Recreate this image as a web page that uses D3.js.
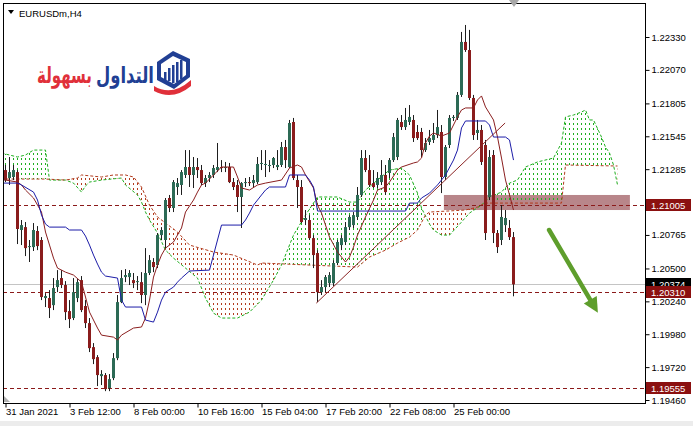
<!DOCTYPE html>
<html><head><meta charset="utf-8">
<script src="https://cdn.jsdelivr.net/npm/d3@7"></script>
<style>body{margin:0;background:#fff;} svg{display:block;}</style>
</head><body><svg id="c" width="693" height="426"></svg>
<script>
// ---------------- DATA ----------------
const symbol = "EURUSDm,H4";
const openP = [
1.21278,1.21215,1.21223,1.21262,1.20804,1.20827,1.20669,1.20669,1.20796,1.20725,
1.20266,1.20266,1.20210,1.20353,1.20424,1.20369,1.20163,1.20108,1.20266,1.20408,
1.20203,1.20068,1.19878,1.19799,1.19649,1.19657,1.19554,1.19633,1.19791,1.20234,
1.20432,1.20432,1.20408,1.20392,1.20392,1.20290,1.20464,1.20551,1.20527,1.20764,
1.20725,1.21057,1.20978,1.21144,1.21160,1.21239,1.21302,1.21239,1.21302,1.21278,
1.21175,1.21215,1.21239,1.21278,1.21302,1.21294,1.21302,1.21183,1.21160,1.21065,
1.21175,1.21183,1.21175,1.21183,1.21326,1.21318,1.21310,1.21318,1.21302,1.21318,
1.21460,1.21302,1.21658,1.21199,1.21144,1.20883,1.20883,1.20740,1.20622,1.20313,
1.20353,1.20384,1.20384,1.20543,1.20685,1.20709,1.20827,1.20843,1.20907,1.21081,
1.21373,1.21278,1.21175,1.21160,1.21183,1.21239,1.21255,1.21357,1.21381,1.21658,
1.21618,1.21658,1.21674,1.21579,1.21579,1.21436,1.21500,1.21516,1.21555,1.21579,
1.21223,1.21476,1.21690,1.21690,1.21872,1.22291,1.22227,1.21848,1.21571,1.21595,
1.21476,1.21065,1.21397,1.20780,1.20725,1.20843,1.20820,1.20748];
const highP = [
1.21318,1.21381,1.21318,1.21278,1.20883,1.20867,1.20725,1.20859,1.20835,1.20748,
1.20305,1.20329,1.20424,1.20487,1.20487,1.20400,1.20250,1.20424,1.20416,1.20440,
1.20250,1.20108,1.19910,1.19815,1.19696,1.19673,1.19665,1.19831,1.20290,1.20487,
1.20495,1.20487,1.20464,1.20440,1.20471,1.20661,1.20606,1.20582,1.20780,1.20827,
1.21057,1.21081,1.21199,1.21215,1.21278,1.21436,1.21436,1.21381,1.21373,1.21318,
1.21239,1.21262,1.21318,1.21492,1.21357,1.21342,1.21334,1.21215,1.21199,1.21183,
1.21215,1.21223,1.21239,1.21381,1.21436,1.21436,1.21357,1.21381,1.21436,1.21500,
1.21516,1.21674,1.21690,1.21239,1.21199,1.20962,1.20922,1.20764,1.20645,1.20408,
1.20448,1.20471,1.20566,1.20725,1.20764,1.20867,1.20922,1.20946,1.21144,1.21436,
1.21436,1.21397,1.21278,1.21262,1.21357,1.21318,1.21373,1.21571,1.21690,1.21713,
1.21769,1.21792,1.21713,1.21634,1.21611,1.21531,1.21595,1.21650,1.21753,1.21634,
1.21476,1.21713,1.21713,1.21895,1.22370,1.22425,1.22386,1.21872,1.21674,1.21634,
1.21516,1.21436,1.21436,1.20804,1.21001,1.20962,1.20883,1.20788];
const lowP = [
1.21183,1.21160,1.21199,1.20693,1.20685,1.20598,1.20551,1.20638,1.20645,1.20250,
1.20195,1.20108,1.20171,1.20313,1.20345,1.20092,1.20029,1.20092,1.20234,1.20155,
1.20029,1.19839,1.19744,1.19570,1.19578,1.19530,1.19530,1.19617,1.19775,1.20226,
1.20392,1.20369,1.20345,1.20329,1.20226,1.20210,1.20448,1.20471,1.20503,1.20725,
1.20661,1.20946,1.20946,1.21081,1.21081,1.21215,1.21144,1.21136,1.21215,1.21160,
1.21144,1.21183,1.21215,1.21262,1.21262,1.21262,1.21175,1.21120,1.20946,1.20820,
1.21144,1.21152,1.21144,1.21168,1.21278,1.21223,1.21262,1.21294,1.21278,1.21302,
1.21294,1.21294,1.21199,1.20978,1.20859,1.20843,1.20725,1.20503,1.20234,1.20290,
1.20313,1.20353,1.20361,1.20527,1.20645,1.20685,1.20804,1.20820,1.20883,1.21065,
1.21262,1.21144,1.21136,1.21136,1.21160,1.21081,1.21215,1.21342,1.21357,1.21595,
1.21595,1.21634,1.21500,1.21516,1.21381,1.21421,1.21476,1.21492,1.21531,1.21096,
1.21199,1.21452,1.21666,1.21674,1.21856,1.22212,1.21832,1.21516,1.21516,1.21318,
1.20725,1.21041,1.20701,1.20622,1.20685,1.20788,1.20725,1.20280];
const closeP = [
1.21199,1.21262,1.21278,1.20812,1.20843,1.20661,1.20677,1.20804,1.20677,1.20274,
1.20282,1.20187,1.20345,1.20408,1.20369,1.20155,1.20100,1.20313,1.20392,1.20171,
1.20068,1.19870,1.19783,1.19657,1.19665,1.19546,1.19625,1.19791,1.20234,1.20424,
1.20448,1.20464,1.20384,1.20400,1.20290,1.20464,1.20566,1.20511,1.20764,1.20804,
1.21041,1.20978,1.21183,1.21175,1.21262,1.21302,1.21239,1.21302,1.21278,1.21175,
1.21215,1.21239,1.21294,1.21302,1.21294,1.21302,1.21183,1.21144,1.21065,1.21175,
1.21183,1.21175,1.21199,1.21326,1.21334,1.21326,1.21318,1.21373,1.21318,1.21460,
1.21357,1.21650,1.21215,1.21144,1.20867,1.20899,1.20740,1.20606,1.20313,1.20353,
1.20432,1.20448,1.20543,1.20709,1.20740,1.20827,1.20907,1.20922,1.21081,1.21373,
1.21278,1.21160,1.21144,1.21215,1.21239,1.21104,1.21357,1.21539,1.21674,1.21618,
1.21674,1.21698,1.21531,1.21531,1.21436,1.21492,1.21531,1.21555,1.21618,1.21223,
1.21460,1.21690,1.21698,1.21872,1.22291,1.22227,1.21848,1.21555,1.21595,1.21342,
1.20780,1.21381,1.20780,1.20669,1.20907,1.20899,1.20748,1.20374];

// Ichimoku lines: [bar index, price]
const tenkan = [[-1,1.21199],[0,1.21199],[3,1.21183],[4,1.21160],[5,1.21120],[7,1.21057],[9,1.20946],[10,1.20788],[11,1.20685],[12,1.20582],
[13,1.20503],[15,1.20471],[17,1.20448],[19,1.20392],[20,1.20274],[21,1.20155],[23,1.20029],[24,1.19973],[27,1.19957],[28,1.19934],
[29,1.19973],[32,1.20029],[34,1.20037],[35,1.20108],[36,1.20250],[37,1.20432],[38,1.20527],[39,1.20606],[40,1.20661],[42,1.20709],
[44,1.20820],[45,1.20946],[47,1.21041],[48,1.21104],[49,1.21160],[50,1.21175],[52,1.21239],[54,1.21302],[57,1.21302],[58,1.21223],
[59,1.21136],[61,1.21120],[63,1.21160],[65,1.21175],[69,1.21199],[71,1.21294],[73,1.21318],[74,1.21302],[75,1.21239],[77,1.21136],
[78,1.21001],[79,1.20938],[81,1.20748],[83,1.20630],[85,1.20551],[86,1.20590],[87,1.20669],[88,1.20764],[90,1.20907],[92,1.21041],
[93,1.21120],[95,1.21144],[96,1.21183],[98,1.21278],[99,1.21302],[102,1.21334],[103,1.21342],[104,1.21373],[105,1.21492],[106,1.21547],
[107,1.21571],[109,1.21547],[111,1.21571],[113,1.21698],[114,1.21753],[115,1.21769],[117,1.21769],[118,1.21832],[119,1.21864],[120,1.21777],
[122,1.21674],[123,1.21539],[124,1.21373],[125,1.21199],[126,1.21081],[127,1.20962]];
const kijun = [[-1,1.21175],[3,1.21175],[4,1.21160],[7,1.21104],[8,1.21041],[9,1.20922],[10,1.20851],[11,1.20827],[15,1.20827],[16,1.20804],
[19,1.20804],[20,1.20756],[21,1.20685],[22,1.20606],[23,1.20535],[24,1.20471],[25,1.20440],[28,1.20424],[29,1.20250],[30,1.20195],
[34,1.20195],[35,1.20092],[37,1.20076],[38,1.20155],[39,1.20250],[40,1.20313],[42,1.20353],[43,1.20392],[44,1.20424],[46,1.20480],
[51,1.20487],[52,1.20606],[53,1.20725],[54,1.20843],[59,1.20843],[60,1.20883],[61,1.20938],[62,1.21001],[63,1.21041],[64,1.21081],
[65,1.21120],[66,1.21144],[70,1.21144],[71,1.21239],[75,1.21239],[76,1.21199],[77,1.21144],[78,1.20954],[100,1.20954],[101,1.21017],
[103,1.21017],[104,1.21057],[106,1.21096],[108,1.21160],[110,1.21239],[112,1.21357],[113,1.21436],[114,1.21611],[115,1.21666],[120,1.21666],
[121,1.21634],[122,1.21539],[125,1.21539],[126,1.21516],[127,1.21357]];
const spanA = [[-1,1.21413],[1,1.21397],[3,1.21381],[5,1.21397],[7,1.21436],[10,1.21436],[11,1.21199],[15,1.21199],[17,1.21175],[19,1.21104],
[20,1.21152],[21,1.21183],[24,1.21199],[29,1.21215],[30,1.21160],[33,1.21081],[34,1.21025],[35,1.20946],[36,1.20883],[38,1.20780],
[40,1.20645],[42,1.20582],[45,1.20503],[48,1.20424],[50,1.20266],[52,1.20147],[54,1.20108],[58,1.20108],[61,1.20155],[64,1.20250],
[67,1.20408],[69,1.20527],[72,1.20764],[75,1.20922],[78,1.21065],[83,1.21065],[86,1.21025],[88,1.21025],[90,1.21120],[93,1.21199],
[96,1.21278],[99,1.21294],[101,1.21239],[103,1.21096],[104,1.20978],[106,1.20851],[107,1.20804],[109,1.20764],[111,1.20764],[114,1.20867],
[116,1.20938],[119,1.21001],[121,1.21065],[124,1.21104],[126,1.21175],[128,1.21199],[130,1.21302],[133,1.21342],[137,1.21373],[139,1.21492],
[140,1.21698],[142,1.21713],[144,1.21737],[145,1.21753],[146,1.21674],[147,1.21674],[149,1.21539],[150,1.21460],[151,1.21413],[152,1.21318],
[153,1.21160]];
const spanB = [[-1,1.21207],[10,1.21207],[15,1.21199],[18,1.21215],[19,1.21239],[24,1.21223],[27,1.21239],[30,1.21239],[32,1.21223],[34,1.21144],
[36,1.21001],[38,1.20907],[43,1.20788],[46,1.20685],[52,1.20630],[57,1.20606],[63,1.20527],[64,1.20543],[88,1.20511],[91,1.20590],
[95,1.20645],[98,1.20701],[101,1.20748],[103,1.20804],[105,1.20922],[106,1.20946],[115,1.20962],[118,1.20986],[120,1.21017],[139,1.21017],
[140,1.21318],[153,1.21310]];

const levels = [1.21005, 1.20310, 1.19555];
const bidPrice = 1.20374;
const yTicks = [1.22330,1.22070,1.21805,1.21545,1.21285,1.20765,1.20500,1.20240,1.19980,1.19720,1.19460];
const xTickIdx = [0,16,32,48,64,80,96,112];
const xTickLabels = ["31 Jan 2021","3 Feb 12:00","8 Feb 00:00","10 Feb 16:00","15 Feb 04:00","17 Feb 20:00","22 Feb 08:00","25 Feb 00:00"];
const trendLine = [[77.7,1.20226],[124.9,1.21650]];
const zone = {from:109.6, to:156.1, top:1.21081, bottom:1.20962};
const arrowFrom = [135.9, 1.20804];
const arrowTo = [148.1, 1.20150];
const logoBlue = "التداول";
const logoRed = "بسهولة";

// ---------------- DRAW ----------------
const svg = d3.select('#c');
const P = {l:3, t:3, r:645, b:403};
const x = d3.scaleLinear().domain([0,153]).range([5.5,617.5]);
const y = d3.scaleLinear().domain([1.19460,1.22330]).range([400,37]);
const FONT = '"Liberation Sans", Arial, sans-serif';
const GREEN = '#1fae1f', BROWN = '#b23c1e';

svg.append('rect').attr('width',693).attr('height',426).attr('fill','#ffffff');
svg.append('rect').attr('x',0).attr('y',421).attr('width',693).attr('height',5).attr('fill','#ececec');

const defs = svg.append('defs');
defs.append('clipPath').attr('id','plotClip').append('rect')
  .attr('x',P.l+1).attr('y',P.t+1).attr('width',P.r-P.l-1).attr('height',P.b-P.t-1);
const above = d3.area().x(d=>x(d[0])).y0(-20).y1(d=>y(d[1]));
const below = d3.area().x(d=>x(d[0])).y0(600).y1(d=>y(d[1]));
defs.append('clipPath').attr('id','abB').append('path').attr('d',above(spanB));
defs.append('clipPath').attr('id','abA').append('path').attr('d',above(spanA));
defs.append('clipPath').attr('id','blA').append('path').attr('d',below(spanA));
defs.append('clipPath').attr('id','blB').append('path').attr('d',below(spanB));

const g = svg.append('g').attr('clip-path','url(#plotClip)');

// zone rectangle (background object)
g.append('rect')
  .attr('x',x(zone.from)).attr('y',y(zone.top))
  .attr('width',x(zone.to)-x(zone.from)).attr('height',y(zone.bottom)-y(zone.top))
  .attr('fill','#b8868a');

// cloud hatch: one dotted vertical stroke per bar, clipped between the spans
const barsAll = d3.range(-1, 154);
function hatchLines(parent, color){
  parent.selectAll('line').data(barsAll).enter().append('line')
    .attr('x1',i=>x(i)).attr('x2',i=>x(i)).attr('y1',P.t).attr('y2',P.b)
    .attr('stroke',color).attr('stroke-width',1).attr('stroke-dasharray','2,3');
}
hatchLines(g.append('g').attr('clip-path','url(#abB)').append('g').attr('clip-path','url(#blA)'), GREEN);
hatchLines(g.append('g').attr('clip-path','url(#abA)').append('g').attr('clip-path','url(#blB)'), BROWN);
const line = d3.line().x(d=>x(d[0])).y(d=>y(d[1]));
g.append('path').attr('d',line(spanA)).attr('fill','none').attr('stroke',GREEN).attr('stroke-width',1).attr('stroke-dasharray','3,2');
g.append('path').attr('d',line(spanB)).attr('fill','none').attr('stroke',BROWN).attr('stroke-width',1).attr('stroke-dasharray','3,2');

// bid line
g.append('line').attr('x1',P.l).attr('x2',P.r).attr('y1',Math.round(y(bidPrice))+0.5).attr('y2',Math.round(y(bidPrice))+0.5)
  .attr('stroke','#c4c4c4').attr('stroke-width',1);
// level lines
g.selectAll('line.lvl').data(levels).enter().append('line').attr('class','lvl')
  .attr('x1',P.l).attr('x2',P.r)
  .attr('y1',d=>Math.round(y(d))+0.5).attr('y2',d=>Math.round(y(d))+0.5)
  .attr('stroke','#8b1a1a').attr('stroke-width',1).attr('stroke-dasharray','4,3');

// candles
const idx = d3.range(openP.length);
const cg = g.append('g');
cg.selectAll('line.wick').data(idx).enter().append('line').attr('class','wick')
  .attr('x1',i=>x(i)).attr('x2',i=>x(i))
  .attr('y1',i=>y(highP[i])).attr('y2',i=>y(lowP[i]))
  .attr('stroke','#1e1e1e').attr('stroke-width',1);
cg.selectAll('rect.body').data(idx).enter().append('rect').attr('class','body')
  .attr('x',i=>x(i)-1.5).attr('width',3)
  .attr('y',i=>y(Math.max(openP[i],closeP[i])))
  .attr('height',i=>Math.max(1, Math.abs(y(openP[i])-y(closeP[i]))))
  .attr('fill',i=>closeP[i]>=openP[i] ? '#2c6a55' : '#8a1c1c');

// tenkan / kijun
g.append('path').attr('d',line(tenkan)).attr('fill','none').attr('stroke','#8b1f1f').attr('stroke-width',1);
g.append('path').attr('d',line(kijun)).attr('fill','none').attr('stroke','#1c1ca8').attr('stroke-width',1);

// trend line
g.append('path').attr('d',line(trendLine)).attr('fill','none').attr('stroke','#8b2525').attr('stroke-width',1);

// arrow
{
  const x1=x(arrowFrom[0]), y1=y(arrowFrom[1]), x2=x(arrowTo[0]), y2=y(arrowTo[1]);
  const ang=Math.atan2(y2-y1,x2-x1), L=15, Wd=7.5;
  const bx=x2-L*Math.cos(ang), by=y2-L*Math.sin(ang);
  g.append('line').attr('x1',x1).attr('y1',y1).attr('x2',bx).attr('y2',by)
    .attr('stroke','#5e9e2c').attr('stroke-width',4.5).attr('stroke-linecap','round');
  g.append('polygon').attr('points',[
    [x2,y2],[bx+Wd*Math.sin(ang),by-Wd*Math.cos(ang)],[bx-Wd*Math.sin(ang),by+Wd*Math.cos(ang)]
  ].map(p=>p.join(',')).join(' ')).attr('fill','#5e9e2c');
}

// frame
svg.append('rect').attr('x',P.l+0.5).attr('y',P.t+0.5).attr('width',P.r-P.l).attr('height',P.b-P.t)
  .attr('fill','none').attr('stroke','#000').attr('stroke-width',1);

// title
svg.append('polygon').attr('points','8,10 14,10 11,14').attr('fill','#000');
svg.append('text').attr('x',19).attr('y',17).attr('font-family',FONT).attr('font-size',9.5).attr('fill','#000').text(symbol);

// shift markers
svg.append('polygon').attr('points','509,0 519,0 514,7').attr('fill','#a8a8a8');
svg.append('polygon').attr('points','4,396 4,402 10,402').attr('fill','#b0b0b0');

// right axis
const ya = svg.append('g').attr('transform',`translate(${P.r+0.5},0)`)
  .call(d3.axisRight(y).tickValues(yTicks).tickFormat(d3.format('.5f')).tickSize(4).tickPadding(2));
ya.select('.domain').remove();
ya.selectAll('text').attr('font-family',FONT).attr('font-size',9.5).attr('fill','#000');
ya.selectAll('line').attr('stroke','#000');

// price markers
const marks = [{v:bidPrice,c:'#000000'}].concat(levels.map(v=>({v:v,c:'#8b1010'})));
const mg = svg.selectAll('g.mk').data(marks).enter().append('g').attr('class','mk');
mg.append('rect').attr('x',P.r+1).attr('y',d=>Math.round(y(d.v))-6).attr('width',45).attr('height',12).attr('fill',d=>d.c);
mg.append('text').attr('x',P.r+6).attr('y',d=>Math.round(y(d.v))+4)
  .attr('font-family',FONT).attr('font-size',9.5).attr('fill','#fff').text(d=>d3.format('.5f')(d.v));

// bottom axis
const xa = svg.append('g').attr('transform',`translate(0,${P.b+0.5})`)
  .call(d3.axisBottom(x).tickValues(xTickIdx).tickFormat((d,i)=>xTickLabels[i]).tickSize(4).tickPadding(1));
xa.select('.domain').remove();
xa.selectAll('text').attr('text-anchor','start').attr('x',0).attr('font-family',FONT).attr('font-size',9.5).attr('fill','#000');
xa.selectAll('line').attr('stroke','#000');

// logo
const lg = svg.append('g');
lg.append('path').attr('d','M157,62 L173,51 L190,59 L190,77 L174,89 L157,80 Z').attr('fill','#213f94');
lg.append('path').attr('d','M161,64 L173,56 L186,62 L186,75 L174,84 L161,77 Z').attr('fill','#ffffff');
[[164,72,80],[168,68,81],[172,65,83],[176,62,82],[180,60,79]].forEach(b=>{
  lg.append('rect').attr('x',b[0]).attr('y',b[1]).attr('width',2.5).attr('height',b[2]-b[1]).attr('fill','#213f94');
});
lg.append('path').attr('d','M154,86 Q172,97 191,80 L191,86 Q173,101 154,91 Z').attr('fill','#e0303a');
function logoWord(txt, color, rightX, width){
  const t = lg.append('text').attr('x',0).attr('y',0).attr('text-anchor','end')
    .attr('font-family','"DejaVu Sans", sans-serif').attr('font-weight','bold').attr('font-size',23)
    .attr('fill',color).text(txt);
  const w = t.node().getComputedTextLength();
  t.attr('transform',`translate(${rightX},83) scale(${width/w},1)`);
}
logoWord(logoBlue,'#213f94',154,58);
logoWord(logoRed,'#e0303a',92,55);
</script>
</body></html>
